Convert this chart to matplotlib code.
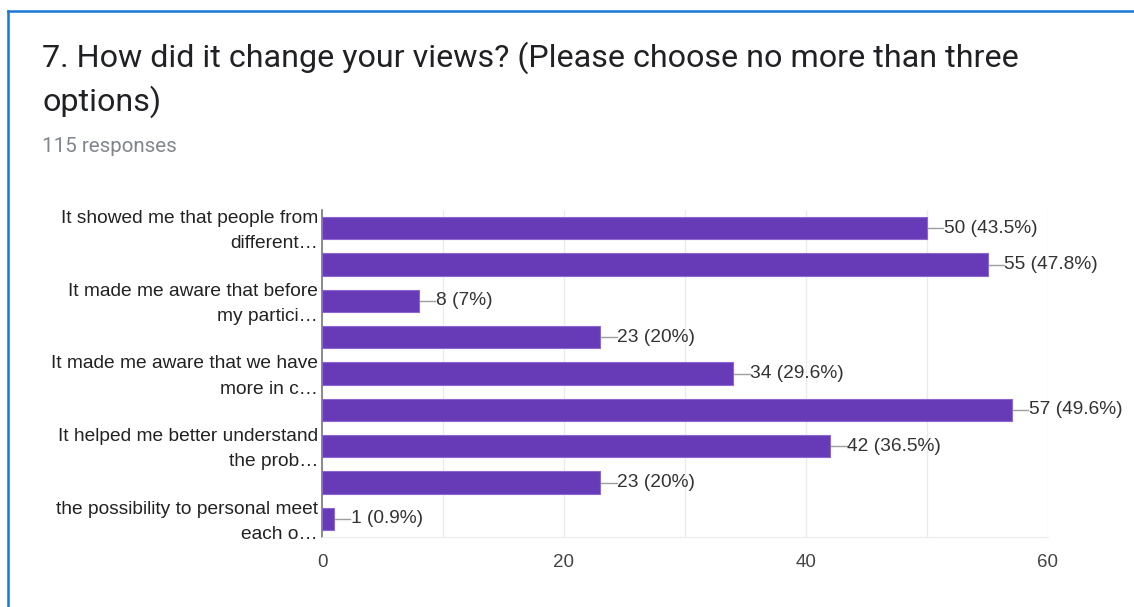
import matplotlib.pyplot as plt
from matplotlib.lines import Line2D

# survey answers (only every other label is shown on the chart)
labels = [
    "It showed me that people from\ndifferent\u2026",
    "",
    "It made me aware that before\nmy partici\u2026",
    "",
    "It made me aware that we have\nmore in c\u2026",
    "",
    "It helped me better understand\nthe prob\u2026",
    "",
    "the possibility to personal meet\neach o\u2026",
]
counts = [50, 55, 8, 23, 34, 57, 42, 23, 1]
total = 115
title = "7. How did it change your views? (Please choose no more than three\noptions)"
subtitle = "115 responses"

W, H = 1134, 607
fig = plt.figure(figsize=(W / 100, H / 100), dpi=100)
fig.patch.set_facecolor("white")

# card border (blue, left + top)
fig.add_artist(Line2D([7.5 / W, 7.5 / W], [0, 1 - 10.5 / H], color="#1976d2", lw=1.8))
fig.add_artist(Line2D([7.5 / W, 1], [1 - 10.5 / H, 1 - 10.5 / H], color="#1976d2", lw=1.8))

fig.text(42 / W, 1 - 41 / H, title, fontsize=23.2, family="Roboto", color="#202124",
         va="top", ha="left", linespacing=1.45)
fig.text(42 / W, 1 - 146 / H, subtitle, fontsize=14.8, family="Roboto", color="#80868b",
         va="center", ha="left")

left, right, top, bottom = 322, 1048, 210, 537
ax = fig.add_axes([left / W, 1 - bottom / H, (right - left) / W, (bottom - top) / H])

pos = list(range(len(counts)))
ax.barh(pos, counts, height=0.61, color="#673ab7", edgecolor="#8c67d0", linewidth=0.8, zorder=3)

for y, c in zip(pos, counts):
    ax.plot([c, c + 1.35], [y, y], color="#9e9e9e", lw=1, zorder=2)
    pct = c / total * 100
    pct_txt = f"{pct:.1f}".rstrip("0").rstrip(".")
    ax.text(c + 1.4, y, f"{c} ({pct_txt}%)", va="center", ha="left",
            fontsize=13.8, family="Liberation Sans", color="#333333")

ax.set_xlim(0, 60)
ax.set_ylim(len(counts) - 0.5, -0.5)
ax.set_xticks(range(0, 61, 10))
ax.set_xticklabels(["0", "", "20", "", "40", "", "60"])
ax.set_yticks(pos)
ax.set_yticklabels([])
# category labels drawn as annotations so they can sit centred on the bar
for y, lab in zip(pos, labels):
    if lab:
        ax.annotate(lab, xy=(0, y), xycoords=ax.get_yaxis_transform(),
                    xytext=(-4, -3), textcoords="offset pixels",
                    ha="right", va="center", multialignment="right",
                    fontsize=13.8, family="Liberation Sans", color="#222222",
                    linespacing=1.62, annotation_clip=False)
ax.grid(axis="x", color="#ebebeb", lw=1, zorder=0)
ax.tick_params(axis="y", length=0)
ax.tick_params(axis="x", length=0, pad=12, labelsize=13.5, labelcolor="#444444")
for lab in ax.get_xticklabels():
    lab.set_family("Liberation Sans")
for s in ["top", "right"]:
    ax.spines[s].set_visible(False)
ax.spines["bottom"].set_color("#ebebeb")
ax.spines["left"].set_color("#777777")
ax.spines["left"].set_linewidth(1.2)
ax.set_facecolor("white")

fig.savefig("out.png", dpi=100, facecolor="white")
